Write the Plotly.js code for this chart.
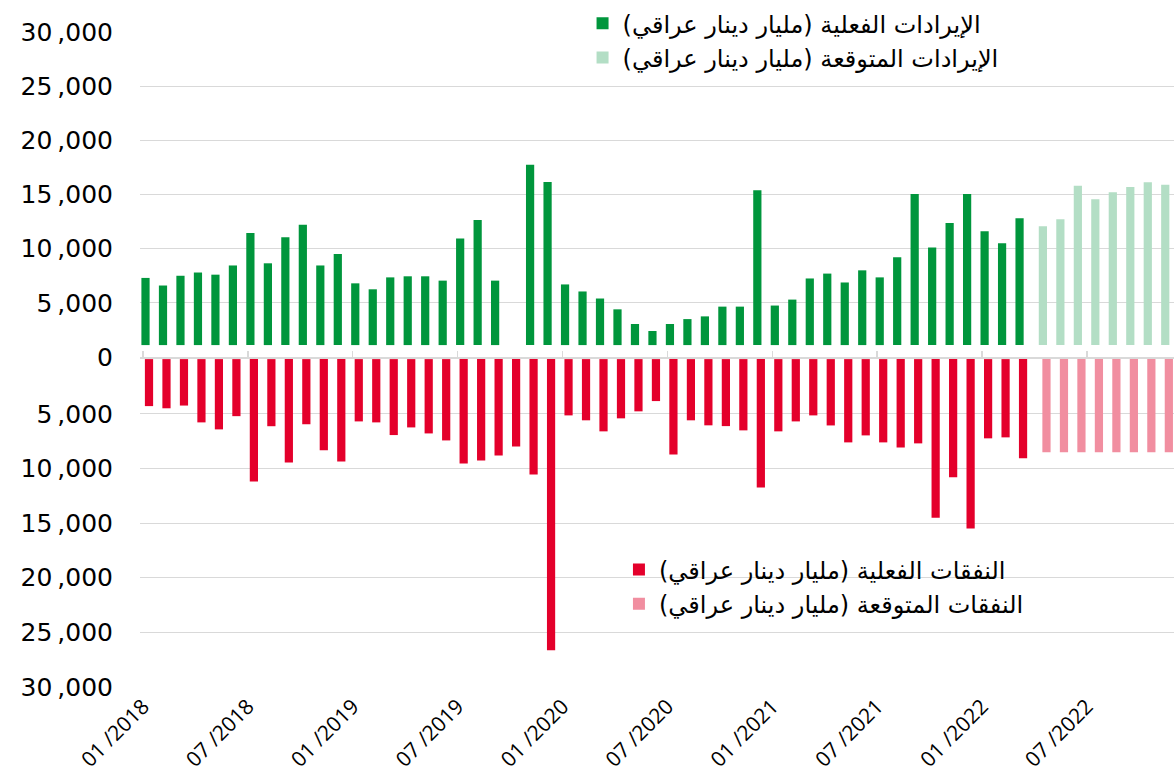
<!DOCTYPE html>
<html>
<head>
<meta charset="utf-8">
<script src="https://cdn.plot.ly/plotly-3.0.1.min.js"></script>
<style>
html,body{margin:0;padding:0;background:#fff;}
#chart{width:1174px;height:778px;}
</style>
</head>
<body>
<div id="chart"></div>
<script>
// Monthly categories: 01/2018 ... 11/2022
const months = [
  "01/2018","02/2018","03/2018","04/2018","05/2018","06/2018","07/2018","08/2018","09/2018","10/2018","11/2018","12/2018",
  "01/2019","02/2019","03/2019","04/2019","05/2019","06/2019","07/2019","08/2019","09/2019","10/2019","11/2019","12/2019",
  "01/2020","02/2020","03/2020","04/2020","05/2020","06/2020","07/2020","08/2020","09/2020","10/2020","11/2020","12/2020",
  "01/2021","02/2021","03/2021","04/2021","05/2021","06/2021","07/2021","08/2021","09/2021","10/2021","11/2021","12/2021",
  "01/2022","02/2022","03/2022","04/2022","05/2022","06/2022","07/2022","08/2022","09/2022","10/2022","11/2022"
];
const actualMonths = months.slice(0, 51);    // 01/2018 - 03/2022
const forecastMonths = months.slice(51);     // 04/2022 - 11/2022

// Revenue, actual (billion IQD) — value read at bar top
const revenueActual = [
  7300, 6600, 7500, 7800, 7600, 8450, 11450, 8650, 11050, 12200, 8450, 9500,
  6800, 6250, 7350, 7450, 7450, 7050, 10950, 12650, 7050, null, 17740, 16150,
  6700, 6050, 5400, 4400, 3050, 2400, 3050, 3500, 3750, 4650, 4650, 15400,
  4750, 5300, 7250, 7700, 6880, 8000, 7350, 9200, 15050, 10100, 12370, 15050,
  11600, 10490, 12800
];
// Expenditure, actual (billion IQD)
const expenditureActual = [
  4300, 4500, 4250, 5790, 6430, 5220, 11190, 6140, 9450, 5960, 8350, 9360,
  5700, 5790, 6950, 6250, 6800, 7440, 9540, 9270, 8810, 7990, 10550, 26640,
  5150, 5600, 6610, 5420, 4780, 3840, 8720, 5600, 6060, 6130, 6520, 11740,
  6610, 5700, 5150, 6070, 7620, 6980, 7620, 8080, 7710, 14520, 10820, 15500,
  7250, 7160, 9080
];
// Forecasts
const revenueForecast = [12070, 12710, 15800, 14570, 15210, 15700, 16140, 15890];
const expenditureForecast = [8530, 8530, 8530, 8530, 8530, 8530, 8530, 8530];

const tickMonths = ["01/2018","07/2018","01/2019","07/2019","01/2020","07/2020","01/2021","07/2021","01/2022","07/2022"];
const tickLabels = ["01 /2018","07 /2018","01 /2019","07 /2019","01 /2020","07 /2020","01 /2021","07 /2021","01 /2022","07 /2022"];
const upperTicks = [0, 5000, 10000, 15000, 20000, 25000, 30000];
const upperTickLabels = ["0", "5\u2009,000", "10\u2009,000", "15\u2009,000", "20\u2009,000", "25\u2009,000", "30\u2009,000"];
const lowerTicks = [-5000, -10000, -15000, -20000, -25000, -30000];
const lowerTickLabels = ["5\u2009,000", "10\u2009,000", "15\u2009,000", "20\u2009,000", "25\u2009,000", "30\u2009,000"];

const names = {
  revA: "الإيرادات الفعلية (مليار دينار عراقي)\u200F",
  revF: "الإيرادات المتوقعة (مليار دينار عراقي)\u200F",
  expA: "النفقات الفعلية (مليار دينار عراقي)\u200F",
  expF: "النفقات المتوقعة (مليار دينار عراقي)\u200F"
};

// styling
const GAP = 1100;       // revenue bars float slightly above the zero line
const W = 0.47;
const idx = m => months.indexOf(m);
const xa = actualMonths.map(idx);
const xf = forecastMonths.map(idx);
const tickIdx = tickMonths.map(idx);
const FONT = "DejaVu Sans";

const traces = [
  {type:"bar", name:names.revA, legend:"legend", legendgroup:"a",
   x:xa, y:revenueActual.map(v => v == null ? null : v - GAP), base:GAP,
   width:W, offset:-0.09, xaxis:"x", yaxis:"y",
   marker:{color:"#00963C"}, hoverinfo:"x+text", text:revenueActual.map(String), textposition:"none"},
  {type:"bar", name:names.revF, legend:"legend", legendgroup:"b",
   x:xf, y:revenueForecast.map(v => v - GAP), base:GAP,
   width:W, offset:0.245, xaxis:"x", yaxis:"y",
   marker:{color:"#B3DEC5"}, hoverinfo:"x+text", text:revenueForecast.map(String), textposition:"none"},
  {type:"bar", name:names.expA, legend:"legend2", legendgroup:"c",
   x:xa, y:expenditureActual.map(v => -v),
   width:W, offset:0.11, xaxis:"x", yaxis:"y2",
   marker:{color:"#E4002B"}},
  {type:"bar", name:names.expF, legend:"legend2", legendgroup:"d",
   x:xf, y:expenditureForecast.map(v => -v),
   width:W, offset:0.45, xaxis:"x", yaxis:"y2",
   marker:{color:"#F18EA0"}},
  // carrier for the zero axis line with its tick marks
  {type:"scatter", mode:"markers", x:[null], y:[null], xaxis:"x2", yaxis:"y",
   showlegend:false, hoverinfo:"skip"}
];

const XR = [-0.17, 58.98];
const ZPOS = 0.5038;
const layout = {
  width:1174, height:778,
  margin:{l:140, r:0, t:32, b:91},
  paper_bgcolor:"#fff", plot_bgcolor:"#fff",
  barmode:"overlay",
  showlegend:true,
  font:{family:FONT, color:"#000"},
  xaxis:{
    range:XR, anchor:"y2", tickmode:"array", tickvals:tickIdx, ticktext:tickLabels,
    tickangle:-45, showgrid:false, zeroline:false, showline:false, ticks:"",
    ticklabelstandoff:2,
    tickfont:{family:"Open Sans", size:21, color:"#000"}
  },
  xaxis2:{
    range:XR, overlaying:"x", anchor:"free", position:ZPOS, side:"bottom",
    tickmode:"array", tickvals:tickIdx, showticklabels:false,
    ticks:"inside", ticklen:6, tickwidth:1.5, tickcolor:"#d9d9d9",
    showline:true, linecolor:"#d9d9d9", linewidth:1.5,
    showgrid:false, zeroline:false
  },
  yaxis:{
    domain:[ZPOS, 1], range:[0, 30000], anchor:"x",
    tickmode:"array", tickvals:upperTicks, ticktext:upperTickLabels,
    showgrid:true, gridcolor:"#d9d9d9", gridwidth:1, zeroline:false, showline:false,
    ticks:"", ticklabelstandoff:26,
    tickfont:{family:FONT, size:25, color:"#000"}
  },
  yaxis2:{
    domain:[0, 0.5006], range:[-30000, 0], anchor:"x",
    tickmode:"array", tickvals:lowerTicks, ticktext:lowerTickLabels,
    showgrid:true, gridcolor:"#d9d9d9", gridwidth:1, zeroline:false, showline:false,
    ticks:"", ticklabelstandoff:26,
    tickfont:{family:FONT, size:25, color:"#000"}
  },
  legend:{
    x:0.428, y:1.047, xanchor:"left", yanchor:"top",
    bgcolor:"rgba(0,0,0,0)", borderwidth:0, traceorder:"grouped", tracegroupgap:0,
    font:{family:FONT, size:24, color:"#000"}
  },
  legend2:{
    x:0.4632, y:0.213, xanchor:"left", yanchor:"top",
    bgcolor:"rgba(0,0,0,0)", borderwidth:0, traceorder:"grouped", tracegroupgap:0,
    font:{family:FONT, size:24, color:"#000"}
  }
};

Plotly.newPlot("chart", traces, layout, {displayModeBar:false, staticPlot:true});
</script>
</body>
</html>
